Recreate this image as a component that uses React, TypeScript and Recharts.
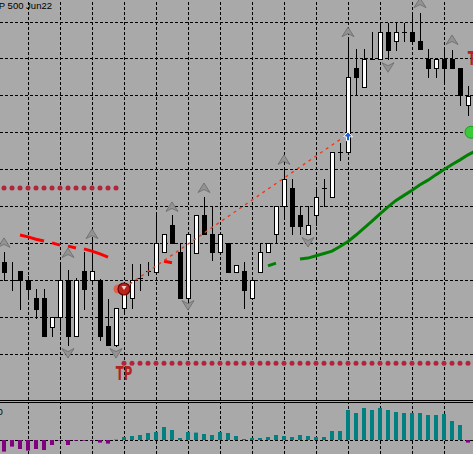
import {
  Bar,
  BarChart,
  Cell,
  ComposedChart,
  Line,
  ReferenceDot,
  ReferenceLine,
  XAxis,
  YAxis,
} from 'recharts'

// bar 59 is the empty slot at the right edge (only indicator lines reach it)
const open = [
  4070, 4060, 4065, 4060, 4050.25, 4050.25, 4034.75, 4040, 4060, 4029.75, 4065, 4060, 4060, 4035.25, 4025,
  4045, 4050.25, 4061.25, 4065, 4064.5, 4075.25, 4090, 4075.25, 4050.25, 4074.75, 4095.25, 4085, 4075.25,
  4080.25, 4064.5, 4065, 4050.25, 4064.5, 4075.25, 4085, 4100.25, 4110, 4095.25, 4085, 4095.25, 4110, 4105,
  4129.5, 4129.5, 4175, 4164.75, 4180, 4180, 4194.5, 4189.75, 4194.5, 4194.5, 4189.75, 4180, 4175, 4180, 4180,
  4175, 4155, null,
]
const high = [
  4075.25, 4070, 4065, 4062.25, 4055.25, 4055.25, 4040, 4070, 4065.5, 4061, 4075.25, 4083, 4060.5, 4049.75,
  4045, 4057.5, 4068.75, 4068.75, 4070, 4095.25, 4085, 4095.25, 4080.25, 4085, 4095.25, 4105, 4100.25, 4085,
  4080.25, 4068.25, 4070, 4060, 4080.25, 4080.25, 4100.25, 4119.75, 4115, 4100.25, 4100.25, 4110.5, 4115,
  4129.5, 4134.5, 4190.25, 4185.25, 4185.25, 4194.5, 4199.5, 4199.5, 4199.5, 4199.5, 4204.75, 4204.75,
  4185.25, 4180, 4184.75, 4184.75, 4175, 4165.25, null,
]
const low = [
  4060, 4054.75, 4044.5, 4051.5, 4039.5, 4029.75, 4029.75, 4033, 4025, 4029.75, 4044.5, 4059, 4027.5, 4025,
  4024.5, 4043.25, 4045, 4054.75, 4062.75, 4064.5, 4075.25, 4080.25, 4050.25, 4046.5, 4074.75, 4085, 4071,
  4075.25, 4064.5, 4064.5, 4045, 4050.25, 4064.5, 4075.25, 4080.25, 4093.75, 4085, 4085, 4085, 4090, 4100.25,
  4105, 4125.25, 4129.5, 4160.5, 4164.75, 4180, 4180, 4180, 4184.75, 4189.75, 4189.75, 4185.25, 4170.25,
  4170.25, 4167, 4175, 4155, 4149.5, null,
]
const close = [
  4064.5, 4060, 4060, 4055.25, 4044.5, 4029.75, 4040, 4060, 4029.75, 4060, 4055.25, 4065, 4029.75, 4025, 4045,
  4054.75, 4060, 4061.25, 4065, 4080.25, 4085, 4080.25, 4050.25, 4085, 4095.25, 4085, 4075.25, 4085, 4064.5,
  4068.25, 4054.75, 4060, 4075.25, 4080.25, 4100.25, 4115, 4089.5, 4089.5, 4090, 4105, 4110, 4129.5, 4129.5,
  4170.25, 4170.25, 4180, 4180, 4194.5, 4184.75, 4194.5, 4194.5, 4189.75, 4185.25, 4175, 4180, 4175, 4175,
  4160.5, 4160, null,
]

// oscillator in the lower window
const histogram = [
  -5.8, -3.3, -4.5, -5.3, -4.5, -5.0, -2.5, -0.2, -2.5, -0.3, -0.3, -0.2, -1.3, -1.8, 0.2, 1.5, 2.0, 2.5, 3.5,
  4.0, 6.5, 5.0, 1.0, 4.0, 3.7, 3.0, 2.5, 4.0, 3.5, 2.0, 0.5, 1.0, 1.0, 1.5, 2.5, 2.0, 1.5, 2.5, 2.0, 1.5,
  1.5, 4.5, 4.5, 15.0, 13.5, 16.0, 15.0, 16.0, 15.0, 14.0, 13.5, 13.5, 13.5, 12.5, 12.5, 13.0, 9.5, 7.5, -1.3,
  null,
]

// [bar, price] pieces of the coloured moving average (red pieces split in two so gaps stay open)
const redDashA: [number, number][] = [
  [2, 4084.5], [3, 4083.5], [4, 4082.25], [5, 4081.25], [8, 4078.5], [9, 4077.5], [20, 4070.25], [21, 4069.5],
]
const redDashB: [number, number][] = [
  [6, 4080.25], [7, 4079], [10, 4077], [11, 4075.75], [12, 4074.25], [13, 4072.5],
]
const greenMa: [number, number][] = [
  [33, 4067.75], [34, 4069.25], [37, 4071.5], [38, 4072], [39, 4073.25], [40, 4074.5], [41, 4075.75],
  [42, 4078.25], [43, 4081], [44, 4084.5], [45, 4088.25], [46, 4092], [47, 4096], [48, 4099.75],
  [49, 4103.25], [50, 4106], [51, 4108.75], [52, 4111.75], [53, 4114.25], [54, 4117.25], [55, 4120],
  [56, 4122.75], [57, 4125.25], [58, 4128], [59, 4130.25],
]
const signalLine: [number, number][] = [[15, 4055.75], [43, 4139.25]]

const upFractals: [number, number][] = [
  [0, 4080.25], [8, 4074.75], [11, 4085], [21, 4099.75], [25, 4110], [35, 4125.25], [43, 4194.5],
  [52, 4210.25], [56, 4190.25],
]
const downFractals: [number, number][] = [[8, 4020.5], [14, 4020.5], [23, 4046.5], [38, 4080.75], [48, 4175.5]]

const stopLevel = { price: 4110, from: 0, to: 14 }
const targetLevel = { price: 4015, from: 15, to: 59 }
const targetLabels = [
  { bar: 15, price: 4015, text: 'TP' },
  { bar: 59, price: 4186, text: 'TP' },
]
const entryMark = { bar: 15, price: 4055.25 }
const buyArrow = { bar: 43, price: 4137.75 }
const exitMark = { bar: 58, price: 4140.25 }

const priceGrid = [4200, 4180, 4160, 4140, 4120, 4100, 4080, 4060, 4040, 4020]
const timeGrid = [3, 7, 11, 15, 19, 23, 27, 31, 35, 39, 43, 47, 51, 55]
const priceDomain = [3995.06, 4211.93]
const histDomain = [-7, 18.5]

const BG = '#a9a9a9'
const W = 480
const MAIN_H = 400
const IND_TOP = 403
const IND_H = 51
const margin = { top: 0, right: 0, bottom: 0, left: 0 }

const pick = (pairs: [number, number][], i: number) => {
  const f = pairs.find((p) => p[0] === i)
  return f ? f[1] : null
}

const rows = open.map((o, i) => ({
  i,
  open: o,
  high: high[i],
  low: low[i],
  close: close[i],
  range: o == null ? null : [low[i], high[i]],
  hist: histogram[i],
  redA: pick(redDashA, i),
  redB: pick(redDashB, i),
  green: pick(greenMa, i),
  signal: pick(signalLine, i),
  up: pick(upFractals, i),
  down: pick(downFractals, i),
  sl: i >= stopLevel.from && i <= stopLevel.to ? stopLevel.price : null,
  tp: i >= targetLevel.from && i <= targetLevel.to ? targetLevel.price : null,
}))

function Candle(props: any) {
  const { x, y, width, height, payload } = props
  if (!payload || payload.open == null || !Number.isFinite(y)) return <g />
  const { open: o, close: c, high: h, low: l } = payload
  const cx = Math.round(x + width / 2)
  const top = Math.min(y, y + height)
  const span = Math.abs(height)
  const py = (v: number) => Math.round(top + ((h - v) / (h - l || 1)) * span)
  const bt = py(Math.max(o, c))
  const bb = py(Math.min(o, c))
  return (
    <g shapeRendering="crispEdges">
      <line x1={cx + 0.5} x2={cx + 0.5} y1={py(h)} y2={py(l) + 1} stroke="#000" />
      {o === c ? (
        <line x1={cx - 2} x2={cx + 3} y1={bt + 0.5} y2={bt + 0.5} stroke="#000" />
      ) : (
        <rect
          x={cx - 1.5}
          y={bt + 0.5}
          width={4}
          height={Math.max(bb - bt, 1)}
          fill={c > o ? '#fff' : '#000'}
          stroke="#000"
        />
      )}
    </g>
  )
}

const fractal = (dir: 1 | -1) => (p: any) => {
  const { cx, cy, value, index } = p
  if (value == null || !Number.isFinite(cy)) return <g key={`f${dir}${index}`} />
  const d = `M${cx} ${cy - 5 * dir} L${cx + 6} ${cy + 4.5 * dir} L${cx} ${cy + 1.5 * dir} L${cx - 6} ${cy + 4.5 * dir} Z`
  return <path key={`f${dir}${index}`} d={d} fill="#939393" stroke="#6a6a6a" strokeWidth={0.8} />
}

const EntryShape = ({ cx, cy }: any) => (
  <g>
    <circle cx={cx - 6} cy={cy} r={4.5} fill="#e0604c" />
    <circle cx={cx} cy={cy} r={6} fill="#b8241c" stroke="#6e0000" strokeWidth={1.2} />
    <path d={`M${cx - 2.5} ${cy - 3} L${cx + 2.5} ${cy - 3} L${cx} ${cy + 1} Z`} fill="#f4d0d0" />
  </g>
)

const ArrowShape = ({ cx, cy }: any) => (
  <path
    d={`M${cx} ${cy - 5} L${cx + 4.5} ${cy} L${cx + 1.5} ${cy} L${cx + 1.5} ${cy + 4} L${cx - 1.5} ${cy + 4} L${cx - 1.5} ${cy} L${cx - 4.5} ${cy} Z`}
    fill="#1f5fd0"
    stroke="#fff"
    strokeWidth={1}
  />
)

const ExitShape = ({ cx, cy }: any) => (
  <circle cx={cx + 3} cy={cy} r={6} fill="#3cc83c" stroke="#1e9e1e" strokeWidth={1} />
)

const labelShape = (text: string) => ({ cx, cy }: any) => (
  <text
    transform={`translate(${cx},${cy + 17}) scale(1,1.45)`}
    textAnchor="middle"
    fontFamily="'Liberation Sans Narrow','DejaVu Sans Condensed',sans-serif"
    fontWeight="bold"
    fontSize={13}
    fill="#b22222"
  >
    {text}
  </text>
)

const gridLine = { stroke: '#000', strokeDasharray: '3 2', strokeWidth: 1 }

export default function App() {
  return (
    <div
      style={{
        position: 'absolute',
        left: 0,
        top: 0,
        width: 473,
        height: 454,
        overflow: 'hidden',
        background: BG,
      }}
    >
      <style>{`.recharts-reference-line line { shape-rendering: crispEdges; }`}</style>

      {/* price grid */}
      <div style={{ position: 'absolute', left: 0, top: 0 }}>
        <ComposedChart width={W} height={MAIN_H} data={rows} margin={margin}>
          <XAxis dataKey="i" type="category" scale="band" hide />
          <YAxis type="number" domain={priceDomain} allowDataOverflow hide />
          <Line dataKey="close" stroke="none" dot={false} activeDot={false} isAnimationActive={false} />
          {priceGrid.map((p) => (
            <ReferenceLine key={p} y={p} {...gridLine} />
          ))}
          {timeGrid.map((t) => (
            <ReferenceLine key={t} x={t} {...gridLine} />
          ))}
        </ComposedChart>
      </div>

      {/* candles and overlays */}
      <div style={{ position: 'absolute', left: 0, top: 0 }}>
        <ComposedChart width={W} height={MAIN_H} data={rows} margin={margin}>
          <XAxis dataKey="i" type="category" scale="band" hide />
          <YAxis type="number" domain={priceDomain} allowDataOverflow hide />
          <Bar dataKey="range" shape={Candle} isAnimationActive={false} />
          <Line dataKey="redA" stroke="#ff0000" strokeWidth={3} dot={false} activeDot={false} isAnimationActive={false} />
          <Line dataKey="redB" stroke="#ff0000" strokeWidth={3} dot={false} activeDot={false} isAnimationActive={false} />
          <Line dataKey="green" stroke="#008000" strokeWidth={3} dot={false} activeDot={false} isAnimationActive={false} />
          <Line
            dataKey="signal"
            stroke="#f03a18"
            strokeWidth={1.4}
            strokeDasharray="3 4"
            connectNulls
            dot={false}
            activeDot={false}
            isAnimationActive={false}
          />
          <Line dataKey="up" stroke="none" dot={fractal(1)} activeDot={false} isAnimationActive={false} />
          <Line dataKey="down" stroke="none" dot={fractal(-1)} activeDot={false} isAnimationActive={false} />
          <Line
            dataKey="sl"
            stroke="none"
            dot={{ r: 2.5, fill: '#b3243c', stroke: 'none' }}
            activeDot={false}
            isAnimationActive={false}
          />
          <Line
            dataKey="tp"
            stroke="none"
            dot={{ r: 2.5, fill: '#b3243c', stroke: 'none' }}
            activeDot={false}
            isAnimationActive={false}
          />
          <ReferenceDot x={entryMark.bar} y={entryMark.price} r={6} shape={EntryShape} />
          <ReferenceDot x={buyArrow.bar} y={buyArrow.price} r={5} shape={ArrowShape} />
          <ReferenceDot x={exitMark.bar} y={exitMark.price} r={6} shape={ExitShape} />
          {targetLabels.map((t) => (
            <ReferenceDot key={t.bar} x={t.bar} y={t.price} r={1} shape={labelShape(t.text)} />
          ))}
        </ComposedChart>
      </div>

      {/* oscillator grid */}
      <div style={{ position: 'absolute', left: 0, top: IND_TOP }}>
        <ComposedChart width={W} height={IND_H} data={rows} margin={margin}>
          <XAxis dataKey="i" type="category" scale="band" hide />
          <YAxis type="number" domain={histDomain} allowDataOverflow hide />
          <Line dataKey="hist" stroke="none" dot={false} activeDot={false} isAnimationActive={false} />
          <ReferenceLine y={0} {...gridLine} />
          {timeGrid.map((t) => (
            <ReferenceLine key={t} x={t} {...gridLine} />
          ))}
        </ComposedChart>
      </div>

      {/* oscillator bars */}
      <div style={{ position: 'absolute', left: 0, top: IND_TOP }}>
        <BarChart width={W} height={IND_H} data={rows} margin={margin}>
          <XAxis dataKey="i" type="category" scale="band" hide />
          <YAxis type="number" domain={histDomain} allowDataOverflow hide />
          <Bar dataKey="hist" barSize={4} isAnimationActive={false}>
            {rows.map((r) => (
              <Cell key={r.i} fill={(r.hist ?? 0) >= 0 ? '#008080' : '#800080'} />
            ))}
          </Bar>
        </BarChart>
      </div>

      <svg width={473} height={454} style={{ position: 'absolute', left: 0, top: 0, pointerEvents: 'none' }}>
        <text x={52} y={9} textAnchor="end" fontFamily="'Liberation Sans', sans-serif" fontSize={9.5} fill="#000">
          S&amp;P 500 Jun22
        </text>
        <rect x={0} y={400} width={473} height={1} fill="#000" />
        <rect x={0} y={402} width={473} height={1} fill="#000" />
        <text x={-2.5} y={415} fontFamily="'Liberation Sans', sans-serif" fontSize={9.5} fill="#000">
          0
        </text>
      </svg>
    </div>
  )
}
